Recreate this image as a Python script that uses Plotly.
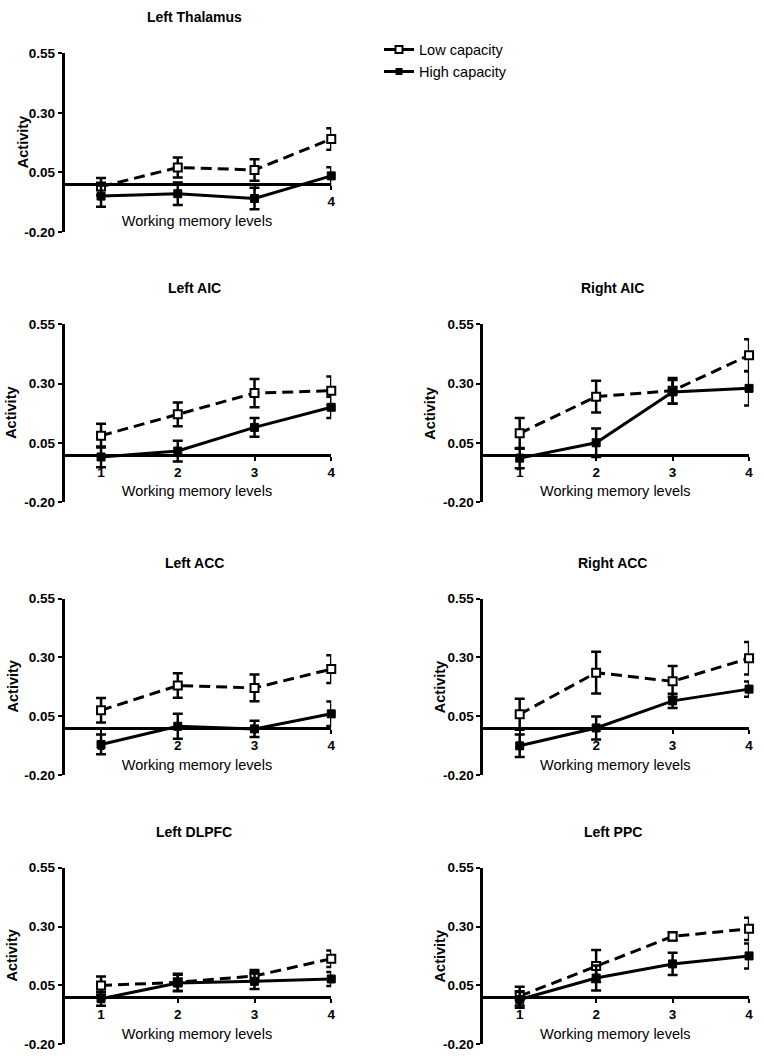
import plotly.graph_objects as go

levels = [1, 2, 3, 4]
tick_labels = ["1", "2", "3", "4"]
y_tick_vals = [-0.20, 0.05, 0.30, 0.55]
y_tick_text = ["-0.20", "0.05", "0.30", "0.55"]

titles = ["Left Thalamus", "Left AIC", "Right AIC", "Left ACC", "Right ACC", "Left DLPFC", "Left PPC"]

thal_low = [-0.01, 0.07, 0.06, 0.19]
thal_low_err = [0.036, 0.042, 0.045, 0.045]
thal_high = [-0.05, -0.04, -0.06, 0.035]
thal_high_err = [0.045, 0.047, 0.045, 0.036]

laic_low = [0.08, 0.17, 0.26, 0.27]
laic_low_err = [0.05, 0.05, 0.06, 0.06]
laic_high = [-0.01, 0.015, 0.115, 0.20]
laic_high_err = [0.044, 0.044, 0.04, 0.045]

raic_low = [0.09, 0.245, 0.27, 0.42]
raic_low_err = [0.065, 0.067, 0.054, 0.067]
raic_high = [-0.015, 0.05, 0.265, 0.28]
raic_high_err = [0.043, 0.06, 0.05, 0.072]

lacc_low = [0.075, 0.18, 0.17, 0.25]
lacc_low_err = [0.052, 0.052, 0.057, 0.059]
lacc_high = [-0.07, 0.007, -0.004, 0.06]
lacc_high_err = [0.042, 0.053, 0.035, 0.052]

racc_low = [0.058, 0.235, 0.198, 0.296]
racc_low_err = [0.066, 0.089, 0.065, 0.069]
racc_high = [-0.076, 0.0, 0.115, 0.165]
racc_high_err = [0.048, 0.049, 0.03, 0.032]

dlpfc_low = [0.049, 0.063, 0.09, 0.163]
dlpfc_low_err = [0.038, 0.036, 0.025, 0.035]
dlpfc_high = [-0.007, 0.06, 0.067, 0.077]
dlpfc_high_err = [0.03, 0.035, 0.033, 0.03]

ppc_low = [0.004, 0.132, 0.258, 0.29]
ppc_low_err = [0.04, 0.068, 0.018, 0.047]
ppc_high = [-0.01, 0.081, 0.141, 0.175]
ppc_high_err = [0.035, 0.053, 0.047, 0.053]

panels = [
    (thal_low, thal_low_err, thal_high, thal_high_err),
    (laic_low, laic_low_err, laic_high, laic_high_err),
    (raic_low, raic_low_err, raic_high, raic_high_err),
    (lacc_low, lacc_low_err, lacc_high, lacc_high_err),
    (racc_low, racc_low_err, racc_high, racc_high_err),
    (dlpfc_low, dlpfc_low_err, dlpfc_high, dlpfc_high_err),
    (ppc_low, ppc_low_err, ppc_high, ppc_high_err),
]

# layout geometry (pixels)
W, H = 764, 1063
cols_px = [(63, 333), (484, 753)]
rows_px = [(47, 228), (322, 502), (600, 779), (873, 1052)]
placement = [(0, 0), (1, 0), (1, 1), (2, 0), (2, 1), (3, 0), (3, 1)]
activity_shift = [40, 51, 51, 50, 42, 51, 42]

FONT = "Liberation Sans, Arial, sans-serif"
YMIN, YMAX = -0.20, 0.55

fig = go.Figure()
layout = dict(
    width=W, height=H, margin=dict(l=0, r=0, t=0, b=0),
    paper_bgcolor="white", plot_bgcolor="rgba(0,0,0,0)",
    font=dict(family=FONT, color="black"),
    showlegend=True,
    legend=dict(x=381 / W, y=1 - 27 / H, xanchor="left", yanchor="top",
                font=dict(size=14.5, family=FONT), itemwidth=30,
                tracegroupgap=0, bgcolor="rgba(0,0,0,0)"),
)
annotations = []

for i, (title, (lo, lo_e, hi, hi_e), (r, c)) in enumerate(zip(titles, panels, placement)):
    n = i + 1
    xs = "" if n == 1 else str(n)
    x0, x1 = cols_px[c]
    ytop, ybot = rows_px[r]
    xdom = [x0 / W, x1 / W]
    ydom = [1 - ybot / H, 1 - ytop / H]
    zero_pos = ydom[0] + (0 - YMIN) / (YMAX - YMIN) * (ydom[1] - ydom[0])

    fig.add_trace(go.Scatter(
        x=levels, y=lo, mode="lines+markers", xaxis="x" + xs, yaxis="y" + xs,
        line=dict(color="black", width=3, dash="11px,6px"),
        marker=dict(symbol="square", size=8, color="white", line=dict(color="black", width=2)),
        error_y=dict(type="data", array=lo_e, color="black", thickness=2.5, width=5),
        showlegend=False, cliponaxis=False, name="Low capacity"))
    fig.add_trace(go.Scatter(
        x=levels, y=hi, mode="lines+markers", xaxis="x" + xs, yaxis="y" + xs,
        line=dict(color="black", width=3),
        marker=dict(symbol="square", size=8, color="black", line=dict(color="black", width=1)),
        error_y=dict(type="data", array=hi_e, color="black", thickness=2.5, width=5),
        showlegend=False, cliponaxis=False, name="High capacity"))

    ttext = ["", "", "", "4"] if n == 1 else tick_labels
    layout["xaxis" + xs] = dict(
        domain=xdom, anchor="free", position=zero_pos, range=[0.5, 4],
        tickvals=levels, ticktext=ttext, ticks="outside", ticklen=4, tickwidth=2,
        tickcolor="black", showline=True, linewidth=3, linecolor="black",
        showgrid=False, zeroline=False,
        tickfont=dict(size=13.5, family=FONT, color="black", weight="bold"),
        title=dict(text="Working memory levels", font=dict(size=14.5, family=FONT), standoff=7),
    )
    layout["yaxis" + xs] = dict(
        domain=ydom, anchor="free", position=xdom[0], range=[YMIN, YMAX],
        tickvals=y_tick_vals, ticktext=y_tick_text, ticks="outside", ticklen=4, tickwidth=2,
        tickcolor="black", showline=True, linewidth=3, linecolor="black",
        showgrid=False, zeroline=False,
        tickfont=dict(size=13.5, family=FONT, color="black", weight="bold"),
    )
    annotations.append(dict(
        text="<b>" + title + "</b>", xref="x" + xs + " domain", yref="y" + xs + " domain",
        x=0.49, y=1, yshift=36, xanchor="center", yanchor="middle", showarrow=False,
        font=dict(size=14, family=FONT)))
    annotations.append(dict(
        text="<b>Activity</b>", xref="x" + xs + " domain", yref="y" + xs + " domain",
        x=0, y=0.5, xshift=-activity_shift[i], textangle=-90, xanchor="center", yanchor="middle",
        showarrow=False, font=dict(size=14.5, family=FONT)))

# legend entries
fig.add_trace(go.Scatter(
    x=[None], y=[None], mode="lines+markers", name="Low capacity",
    line=dict(color="black", width=3),
    marker=dict(symbol="square", size=7, color="white", line=dict(color="black", width=2))))
fig.add_trace(go.Scatter(
    x=[None], y=[None], mode="lines+markers", name="High capacity",
    line=dict(color="black", width=3),
    marker=dict(symbol="square", size=7, color="black")))

layout["annotations"] = annotations
fig.update_layout(**layout)
fig.write_html(
    "out.html",
    config={"displayModeBar": False},
    post_script="document.body.style.margin='0';document.body.style.overflow='hidden';",
)
